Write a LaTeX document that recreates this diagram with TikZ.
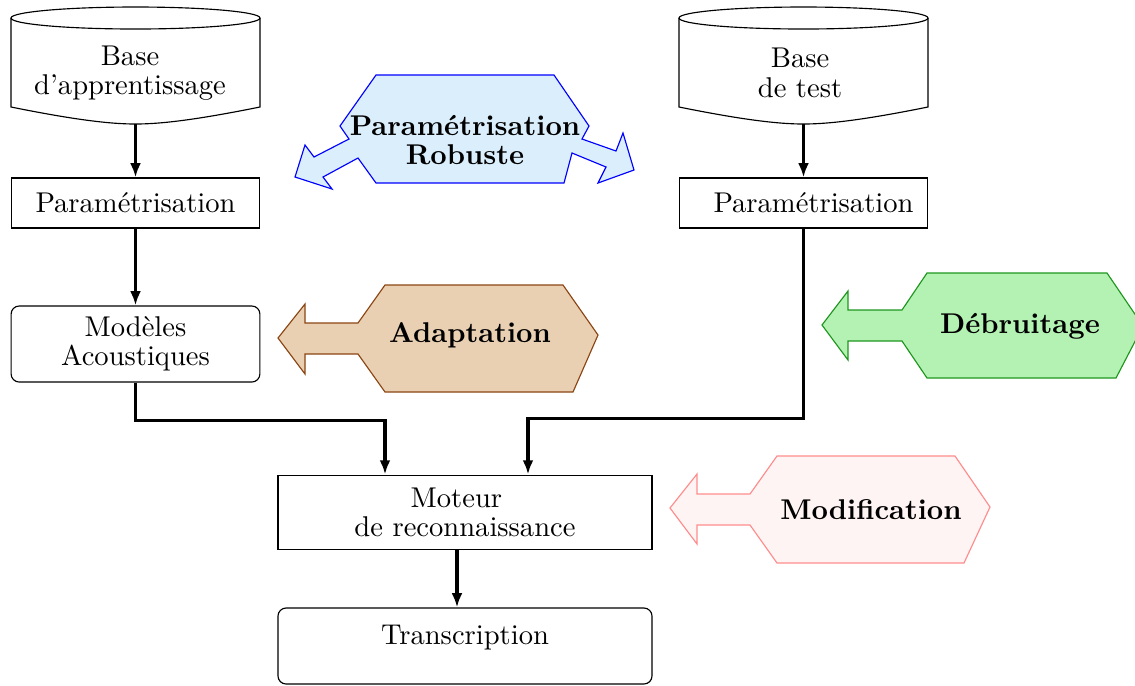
\documentclass[tikz,border=0pt]{standalone}
\usepackage{tikz}
\usetikzlibrary{calc,arrows.meta}
\linespread{0.86}

\definecolor{robfill}{RGB}{218,238,252}
\definecolor{adafill}{RGB}{234,208,178}
\definecolor{adadraw}{RGB}{139,69,19}
\definecolor{debfill}{RGB}{180,242,180}
\definecolor{debdraw}{RGB}{30,150,30}
\definecolor{modfill}{RGB}{255,244,244}
\definecolor{moddraw}{RGB}{255,140,140}

\begin{document}
\begin{tikzpicture}[x=0.0123cm,y=-0.0123cm,
	box/.style={draw,inner sep=0pt,minimum width=3.06cm,minimum height=0.615cm},
	roundbox/.style={draw,rounded corners=0.1cm,align=center,inner sep=0pt,minimum height=0.935cm},
	flow/.style={line width=1.1pt,-{Latex[length=5pt,width=3.8pt]}},
	techlabel/.style={font=\bfseries,align=center}]
	\useasboundingbox (0,0) rectangle (1135,685);
	% Databases
	\foreach \cx/\nm in {135.5/A,803.5/T}{
		\draw (\cx-124.5,18) -- (\cx-124.5,107) .. controls (\cx-60,120) and (\cx-25,124) .. (\cx,124)
			.. controls (\cx+25,124) and (\cx+60,120) .. (\cx+124.5,107) -- (\cx+124.5,18);
		\draw (\cx,18) ellipse [x radius=124.5, y radius=11];
		\coordinate (bot\nm) at (\cx,124);}
	\node[align=center] (baseA) at (130,73) {Base\\d'apprentissage};
	\node[align=center] (baseT) at (800,73) {Base\\de test};
	% Blocks
	\node[box] (paramA) at (135.5,203) {Paramétrisation};
	\node[box] (paramT) at (803.5,203) {\hspace*{7pt}Paramétrisation};
	\node[roundbox,minimum width=3.06cm] (modeles) at (135.5,344) {Modèles\\Acoustiques};
	\node[box,align=center,minimum width=4.6cm,minimum height=0.92cm] (moteur) at (465,512.5) {Moteur\hspace*{6pt}\\de reconnaissance};
	\node[roundbox,minimum width=4.6cm,text depth=7.5pt] (trans) at (465,646) {Transcription};
	% Arrows
	\draw[flow] (botA) -- (paramA);
	\draw[flow] (botT) -- (paramT);
	\draw[flow] (paramA) -- (modeles);
	\draw[flow] (modeles.south) -- ++(0,38) -| ($(moteur.north)+(-80,0)$);
	\draw[flow] (paramT.south) -- ++(0,190) -| ($(moteur.north)+(63,0)$);
	\draw[flow] ($(moteur.south)+(-8,0)$) -- ($(trans.north)+(-8,0)$);
	% Techniques
	\draw[draw=blue,fill=robfill] (376,75) -- (554,75) -- (589,126) -- (582,139) -- (616,151) -- (623,133) -- (634,170)
		-- (598,183) -- (606,167) -- (572,153) -- (564,183) -- (376,183) -- (358,158) -- (323,177) -- (332,189)
		-- (295,177) -- (305,145) -- (314,157) -- (349,139) -- (340,126) -- cycle;
	\node[techlabel] (robuste) at (465,140) {Paramétrisation\\Robuste};
	\draw[draw=adadraw,fill=adafill] (385,285) -- (563,285) -- (598,335) -- (573,392) -- (385,392) -- (358,354)
		-- (305,354) -- (305,374) -- (278,338) -- (305,304) -- (305,323) -- (358,323) -- cycle;
	\node[techlabel] (adapt) at (470,335) {Adaptation};
	\draw[draw=debdraw,fill=debfill] (927,273) -- (1107,273) -- (1143,326) -- (1116,378) -- (927,378) -- (902,341)
		-- (848,341) -- (848,360) -- (822,325) -- (848,291) -- (848,310) -- (902,310) -- cycle;
	\node[techlabel] (debruit) at (1020,326) {Débruitage};
	\draw[draw=moddraw,fill=modfill] (777,456) -- (955,456) -- (990,507) -- (964,563) -- (777,563) -- (750,525)
		-- (697,525) -- (697,544) -- (670,508) -- (697,474) -- (697,494) -- (750,494) -- cycle;
	\node[techlabel] (modif) at (871,510) {Modification};
\end{tikzpicture}
\end{document}
